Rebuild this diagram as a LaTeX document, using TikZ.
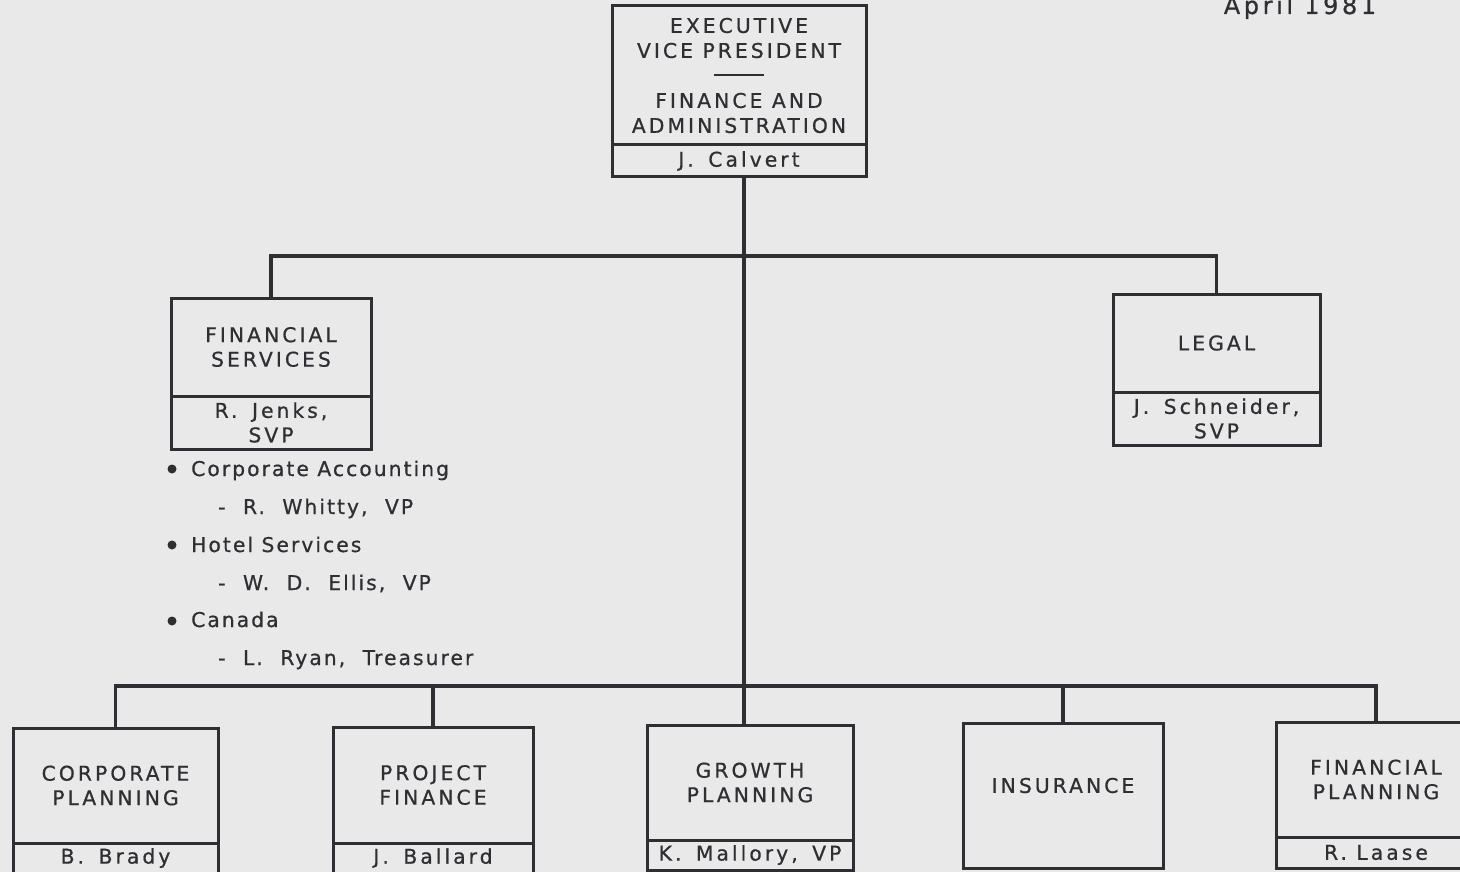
\documentclass[tikz,border=0pt]{standalone}
\usepackage{fontspec}
\setmainfont{DejaVu Sans}
\newfontfamily\chartfont[LetterSpace=15,FakeBold=0.7]{DejaVu Sans}
\newfontfamily\listfont[LetterSpace=10,FakeBold=0.7]{DejaVu Sans}
\newcommand\nsp{\hspace{5pt}}
\newcommand\lsp{\hspace{9pt}}
\usetikzlibrary{calc}
\definecolor{paper}{HTML}{E9E9EA}
\definecolor{ink}{HTML}{2E2E33}
\begin{document}
\begin{tikzpicture}[x=1pt,y=-1pt,
  every node/.style={text=ink, font=\chartfont\fontsize{20.3}{24.5}\selectfont},
  tbox/.style={draw=ink, line width=3pt, inner sep=0pt, outer sep=0pt, align=center, anchor=north west},
  conn/.style={draw=ink, line width=3.6pt, line join=miter},
  item/.style={anchor=base west, inner sep=0pt, font=\listfont\fontsize{20.3}{24.5}\selectfont},
  dot/.style={fill=ink}]
\fill[paper] (0,0) rectangle (1460,872);
\useasboundingbox (0,0) rectangle (1460,872);
\clip (0,0) rectangle (1460,872);

% date
\node[anchor=base, inner sep=0pt, font=\chartfont\fontsize{24}{26}\selectfont] (date) at (1300,14) {April 1981};

% top box
\node[tbox, minimum width=254pt, minimum height=139pt,
      font=\chartfont\fontsize{20.3}{25}\selectfont] (evpt) at (612,6)
  {EXECUTIVE\\VICE PRESIDENT\\\rule[7pt]{50pt}{2pt}\\FINANCE AND\\ADMINISTRATION};
\node[tbox, minimum width=254pt, minimum height=32pt] (evpn) at (evpt.south west) {J.\nsp{} Calvert};

% second level
\node[tbox, minimum width=200pt, minimum height=98pt] (fst) at (171,298) {FINANCIAL\\SERVICES};
\node[tbox, minimum width=200pt, minimum height=53pt] (fsn) at (fst.south west) {R.\nsp{} Jenks,\\SVP};

\node[tbox, minimum width=207pt, minimum height=98pt] (lgt) at (1113,294) {LEGAL};
\node[tbox, minimum width=207pt, minimum height=53pt] (lgn) at (lgt.south west) {J.\nsp{} Schneider,\\SVP};

% list under financial services
\fill[dot] (172,469) circle (4.5);
\node[item] (l1) at (191,476) {Corporate Accounting};
\node[item] (l2) at (218,514) {-\lsp{} R.\lsp{} Whitty,\lsp{} VP};
\fill[dot] (172,545) circle (4.5);
\node[item] (l3) at (191,552) {Hotel Services};
\node[item] (l4) at (218,590) {-\lsp{} W.\lsp{} D.\lsp{} Ellis,\lsp{} VP};
\fill[dot] (172,621) circle (4.5);
\node[item] (l5) at (191,627) {Canada};
\node[item] (l6) at (218,665) {-\lsp{} L.\lsp{} Ryan,\lsp{} Treasurer};

% bottom level
\node[tbox, minimum width=205pt, minimum height=115pt] (cpt) at (13,728) {CORPORATE\\PLANNING};
\node[tbox, minimum width=205pt, minimum height=30pt] (cpn) at (cpt.south west) {B.\nsp{} Brady};

\node[tbox, minimum width=200pt, minimum height=116pt] (pft) at (333,727) {PROJECT\\FINANCE};
\node[tbox, minimum width=200pt, minimum height=30pt] (pfn) at (pft.south west) {J.\nsp{} Ballard};

\node[tbox, minimum width=206pt, minimum height=115pt] (gpt) at (647,725) {GROWTH\\PLANNING};
\node[tbox, minimum width=206pt, minimum height=30pt] (gpn) at (gpt.south west) {K.\nsp{} Mallory,\nsp{} VP};

\node[tbox, minimum width=200pt, minimum height=145pt] (ins) at (963,723) {};
\node[inner sep=0pt] (inst) at ($(ins.center)+(0,-10)$) {INSURANCE};

\node[tbox, minimum width=200pt, minimum height=115pt] (fpt) at (1276,722) {FINANCIAL\\PLANNING};
\node[tbox, minimum width=200pt, minimum height=31pt] (fpn) at (fpt.south west) {R. Laase};

% connectors
\coordinate (tk) at (744,0);
\coordinate (ub) at (0,256);
\coordinate (lb) at (0,686);
\draw[conn] (evpn.south -| tk) -- (gpt.north -| tk);
\draw[conn] (fst.north) -- (fst.north |- ub) -- (lgt.north |- ub) -- (lgt.north);
\draw[conn] (cpt.north) -- (cpt.north |- lb) -- (fpt.north |- lb) -- (fpt.north);
\draw[conn] (pft.north |- lb) -- (pft.north);
\draw[conn] (ins.north |- lb) -- (ins.north);
\end{tikzpicture}
\end{document}
